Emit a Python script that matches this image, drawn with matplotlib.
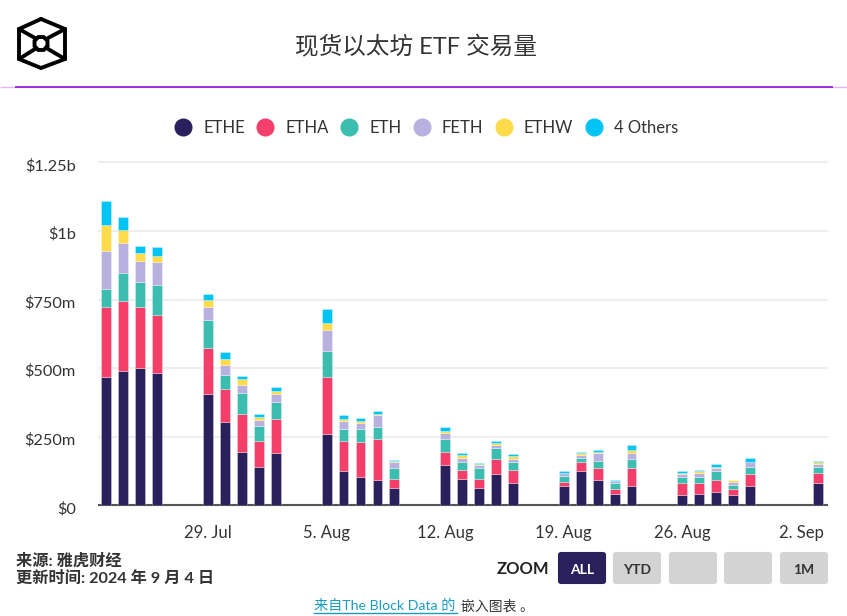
import matplotlib.pyplot as plt
import matplotlib.dates as mdates
import numpy as np
from matplotlib.lines import Line2D
from matplotlib.patches import FancyBboxPatch
from matplotlib.transforms import ScaledTranslation
from datetime import date

plt.rcParams['font.family'] = ['Lato', 'Noto Sans CJK SC', 'DejaVu Sans']

dates = ["2024-07-23", "2024-07-24", "2024-07-25", "2024-07-26",
         "2024-07-29", "2024-07-30", "2024-07-31", "2024-08-01", "2024-08-02",
         "2024-08-05", "2024-08-06", "2024-08-07", "2024-08-08", "2024-08-09",
         "2024-08-12", "2024-08-13", "2024-08-14", "2024-08-15", "2024-08-16",
         "2024-08-19", "2024-08-20", "2024-08-21", "2024-08-22", "2024-08-23",
         "2024-08-26", "2024-08-27", "2024-08-28", "2024-08-29", "2024-08-30",
         "2024-09-03"]

ethe = [466, 488, 500, 483, 407, 304, 195, 141, 189, 260, 124, 102, 91, 64, 146,
        97, 64, 113, 80, 69, 124, 91, 43, 69, 36, 42, 47, 36, 69, 80]
etha = [258, 258, 221, 209, 165, 121, 137, 93, 127, 209, 110, 127, 149, 33, 50,
        33, 33, 55, 50, 17, 33, 44, 16, 66, 44, 38, 44, 22, 44, 39]
eth = [66, 99, 92, 110, 105, 49, 77, 55, 60, 93, 44, 49, 44, 38, 44,
       27, 38, 39, 27, 22, 17, 28, 22, 33, 22, 22, 33, 17, 28, 22]
feth = [138, 110, 77, 83, 44, 39, 28, 22, 28, 77, 28, 22, 44, 22, 22,
        17, 11, 11, 11, 9, 11, 27, 6, 22, 11, 17, 11, 11, 16, 11]
ethw = [94, 50, 28, 22, 27, 21, 22, 11, 11, 27, 10, 6, 6, 5, 10,
        10, 6, 10, 11, 2, 5, 5, 1, 11, 4, 5, 6, 5, 2, 5]
others = [88, 44, 28, 33, 23, 23, 11, 11, 16, 50, 12, 11, 10, 2, 12,
          6, 2, 7, 7, 5, 6, 7, 5, 17, 7, 6, 11, 2, 15, 6]

names = ["ETHE", "ETHA", "ETH", "FETH", "ETHW", "4 Others"]
colors = ["#2a215c", "#f43f6b", "#3bbdb0", "#b8b1e0", "#fedb4b", "#00c4f4"]
series = [ethe, etha, eth, feth, ethw, others]

y_ticks = [0, 250, 500, 750, 1000, 1250]
y_labels = ["$0", "$250m", "$500m", "$750m", "$1b", "$1.25b"]
x_ticks = ["2024-07-29", "2024-08-05", "2024-08-12", "2024-08-19", "2024-08-26", "2024-09-02"]
x_labels = ["29. Jul", "5. Aug", "12. Aug", "19. Aug", "26. Aug", "2. Sep"]

W, H = 847, 616
text_color = "#333333"

fig = plt.figure(figsize=(W / 100, H / 100), dpi=100, facecolor="white")

# chart area, placed in pixels
left, right, top, bottom = 99, 827, 162.3, 505.3
ax = fig.add_axes([left / W, 1 - bottom / H, (right - left) / W, (bottom - top) / H])

x = mdates.date2num([date.fromisoformat(d) for d in dates])
bottoms = np.zeros(len(x))
for vals, c, name in zip(series, colors, names):
    ax.bar(x, vals, bottom=bottoms, width=0.58, color=c, label=name,
           edgecolor=(1, 1, 1, 0.35), linewidth=0.6, zorder=3)
    bottoms += np.array(vals)

tick_pos = mdates.date2num([date.fromisoformat(d) for d in x_ticks])
px_per_day = (801 - 208) / (tick_pos[-1] - tick_pos[0])
ax.set_xlim(tick_pos[0] - (208 - left) / px_per_day, tick_pos[0] + (right - 208) / px_per_day)
ax.set_ylim(0, 1250)
ax.set_xticks(tick_pos, x_labels)
ax.set_yticks(y_ticks, y_labels)
ax.tick_params(axis="x", length=0, pad=14, labelsize=12, labelcolor=text_color)
ax.tick_params(axis="y", length=0, pad=16.5, labelsize=11.8, labelcolor=text_color)
# y labels sit a little under their gridlines
nudge = ScaledTranslation(0, -1.5 / 72, fig.dpi_scale_trans)
for lab in ax.get_yticklabels():
    lab.set_transform(lab.get_transform() + nudge)
ax.grid(axis="y", color="#eeeeee", linewidth=1.5, zorder=0, clip_on=False)
ax.set_axisbelow(True)
for s in ["top", "right", "left"]:
    ax.spines[s].set_visible(False)
ax.spines["bottom"].set_color("#555555")
ax.spines["bottom"].set_linewidth(1.5)

handles = [Line2D([], [], linestyle="", marker="o", markersize=12, color=c) for c in colors]
fig.legend(handles, names, loc="center", bbox_to_anchor=(426 / W, 1 - 128 / H), ncol=6,
           frameon=False, fontsize=12, labelcolor=text_color, handletextpad=0.66,
           columnspacing=0.67, handlelength=1.1)

# everything around the chart, in image pixels
over = fig.add_axes([0, 0, 1, 1], facecolor="none", zorder=5)
over.set_xlim(0, W)
over.set_ylim(H, 0)
over.axis("off")

over.text(416, 47, "现货以太坊 ETF 交易量", ha="center", va="center", fontsize=17, color=text_color)
over.plot([0, 847], [86.5, 86.5], color="#e6b3f5", lw=1, solid_capstyle="butt")
over.plot([15, 833], [86.5, 86.5], color="#9414d8", lw=1.2, solid_capstyle="butt")

# logo
logo = dict(color="black", lw=2.8, solid_joinstyle="miter", solid_capstyle="round")
over.plot([41, 65, 65, 41, 19, 19, 41], [19, 29, 59, 68, 59, 29, 19], **logo)
over.plot([19, 35], [29, 38], **logo)
over.plot([65, 48], [29, 38], **logo)
over.plot([19, 35], [59, 49], **logo)
over.plot([65, 48], [59, 49], **logo)
theta = np.linspace(0, 2 * np.pi, 9) + np.pi / 8
over.plot(41 + 7 * np.cos(theta), 43.5 + 7 * np.sin(theta), **logo)

# footer
over.text(16, 561, "来源: 雅虎财经", va="center", fontsize=11.7, color=text_color, fontweight="bold")
over.text(16, 578, "更新时间: 2024 年 9 月 4 日", va="center", fontsize=11.7, color=text_color, fontweight="bold")

# zoom buttons
over.text(497, 569, "ZOOM", va="center", fontsize=12, fontweight="bold", color="#222222")
for bx, label, active in [(558, "ALL", True), (613, "YTD", False), (669, "", False),
                          (724, "", False), (780, "1M", False)]:
    over.add_patch(FancyBboxPatch((bx + 1, 553), 46, 30, boxstyle="round,pad=0,rounding_size=2",
                                  mutation_aspect=1, linewidth=1.5,
                                  facecolor="#2a215c" if active else "#d3d3d3",
                                  edgecolor="#2a215c" if active else "#d3d3d3"))
    over.text(bx + 24, 570, label, ha="center", va="center", fontsize=10, fontweight="bold",
              color="white" if active else text_color)

# source link
over.text(314, 605.5, "来自The Block Data 的", va="center", fontsize=10.2, color="#1a9cc4")
over.plot([314, 457], [612.5, 612.5], color="#1a9cc4", lw=1)
over.text(461, 605.5, "嵌入图表 。", va="center", fontsize=10, color=text_color)

fig.savefig("out.png", dpi=100)
